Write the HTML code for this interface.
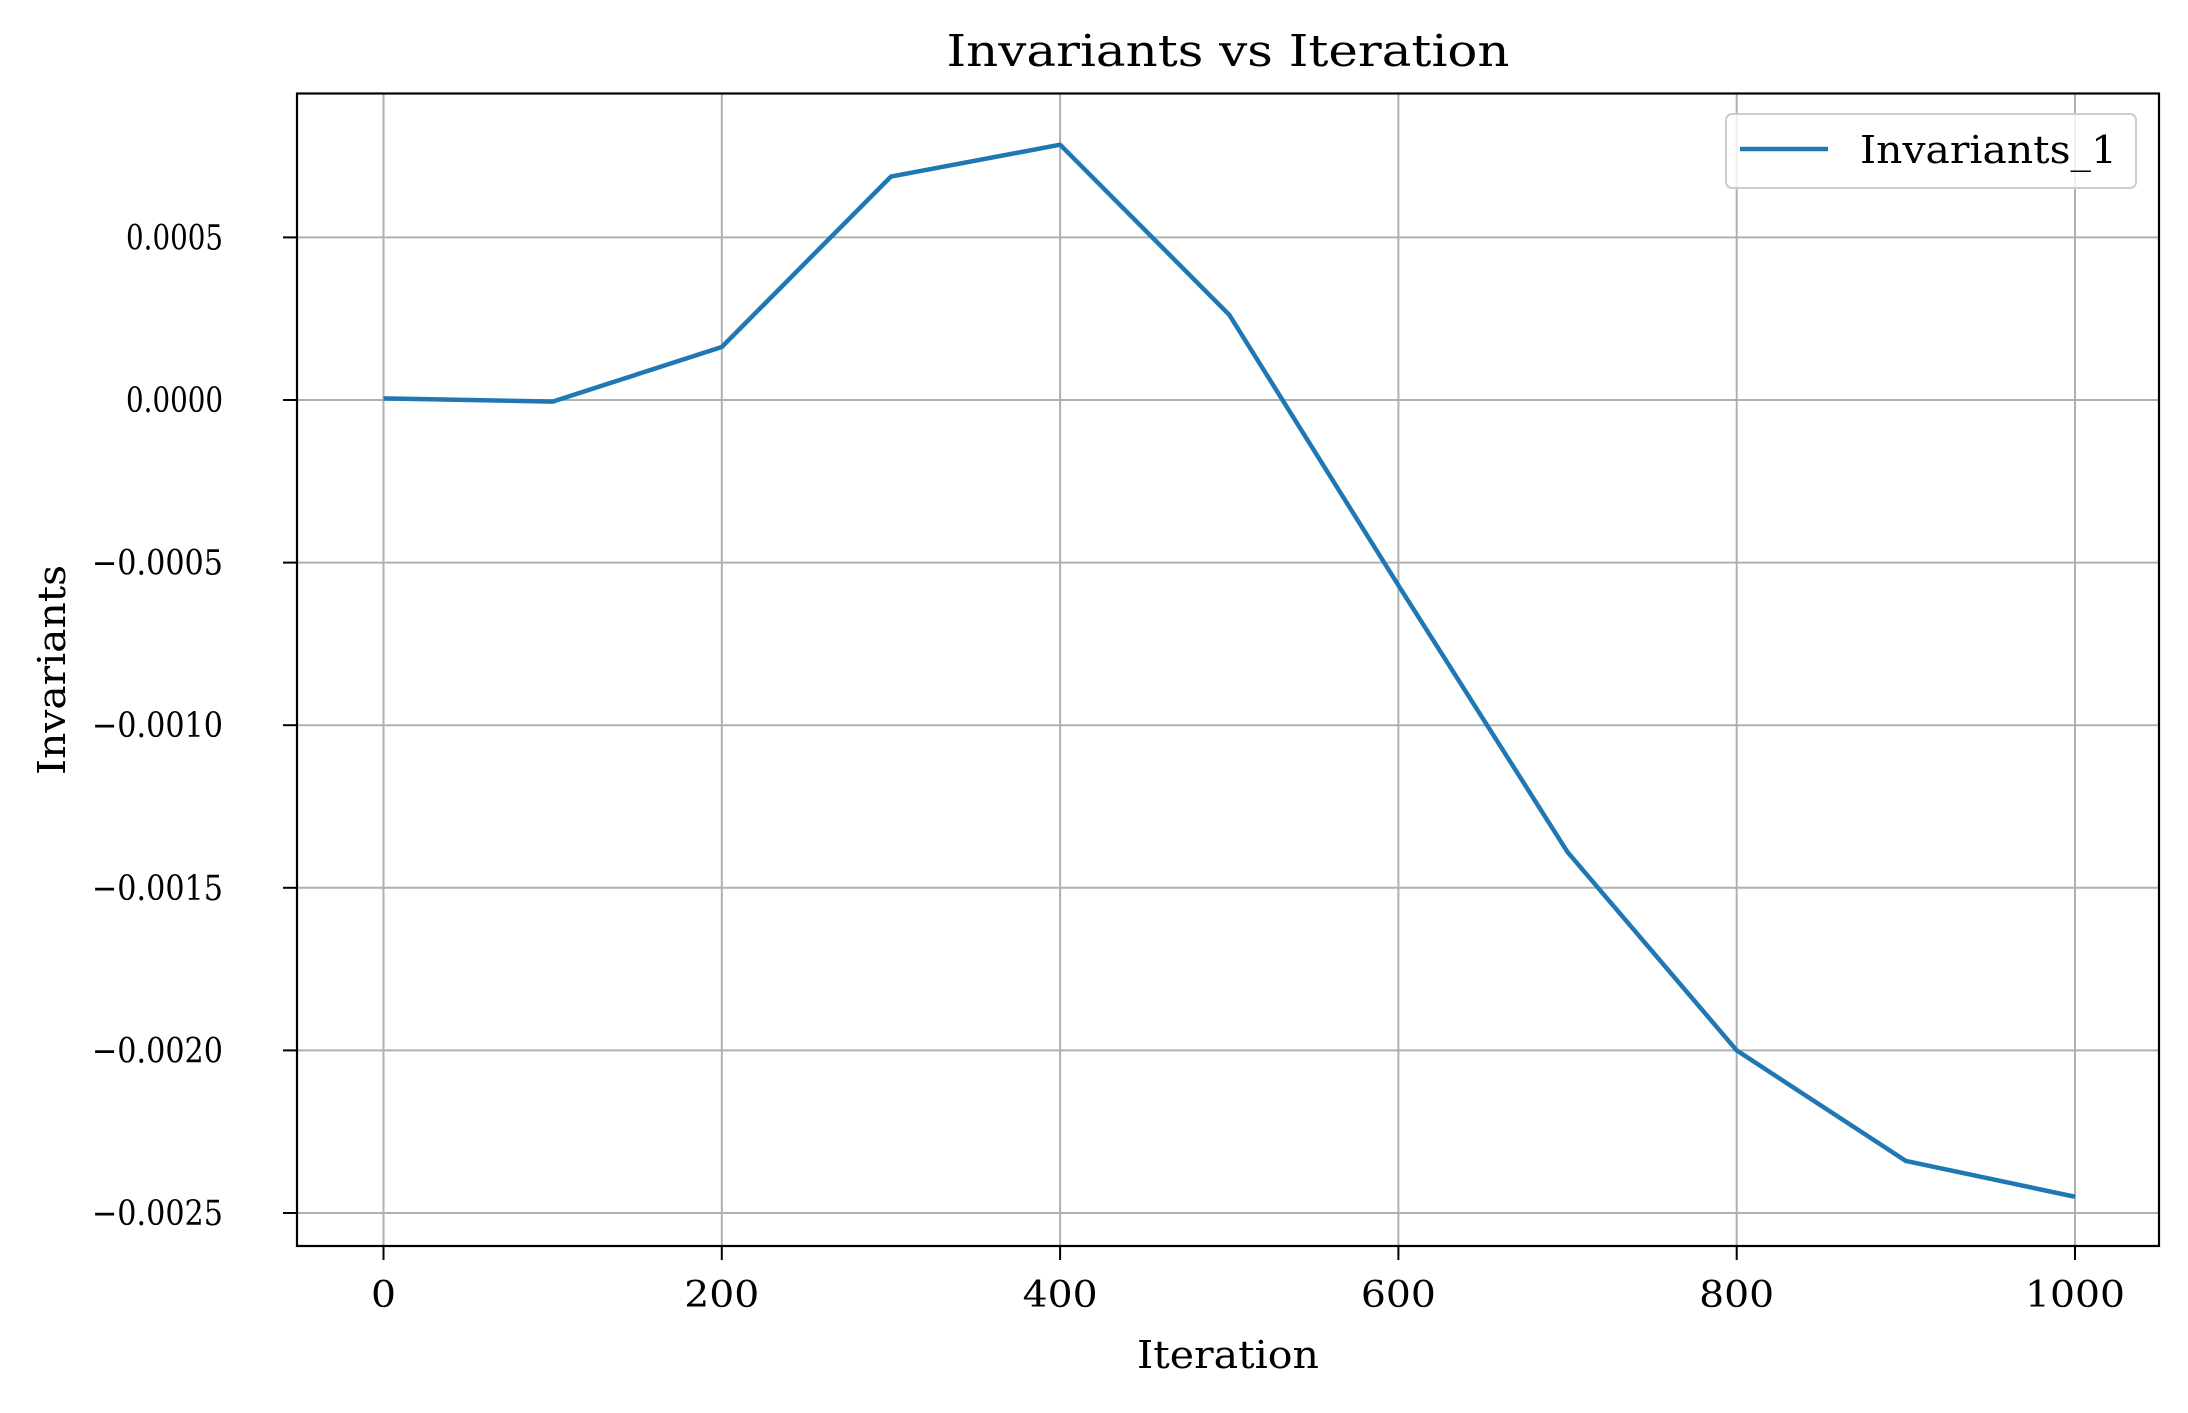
<!DOCTYPE html>
<html><head><meta charset="utf-8"><style>
body{margin:0;background:#fff}
svg text{font-family:"DejaVu Serif","Liberation Serif",serif;fill:#000}
</style></head><body>
<svg id="chart" width="2188" height="1408" xmlns="http://www.w3.org/2000/svg">
<rect width="2188" height="1408" fill="#fff"/>
<g id="grid"></g>
<g id="ticks"></g>
<g id="series"></g>
<rect x="297" y="93.5" width="1862" height="1152.5" fill="none" stroke="#000" stroke-width="2.2"/>
<text x="1228" y="66" font-size="44" text-anchor="middle" textLength="563" lengthAdjust="spacingAndGlyphs">Invariants vs Iteration</text>
<text x="1228" y="1368" font-size="38" text-anchor="middle" textLength="182" lengthAdjust="spacingAndGlyphs">Iteration</text>
<text x="0" y="0" font-size="38" text-anchor="middle" textLength="210" lengthAdjust="spacingAndGlyphs" transform="translate(65,670) rotate(-90)">Invariants</text>
<g>
<rect x="1726" y="114" width="410" height="74" rx="6" fill="#fff" fill-opacity="0.8" stroke="#ccc" stroke-width="2"/>
<line x1="1740" y1="149" x2="1828" y2="149" stroke="#1f77b4" stroke-width="4.5"/>
<text x="1860" y="163" font-size="38" textLength="257" lengthAdjust="spacingAndGlyphs">Invariants_1</text>
</g>
</svg>
<script>
const iterations=[0,100,200,300,400,500,600,700,800,900,1000];
const invariants=[0.000005,-0.000005,0.000163,0.000687,0.000785,0.000262,-0.00057,-0.00139,-0.00200,-0.00234,-0.00245];
const xTicks=[0,200,400,600,800,1000];
const yTicks=[0.0005,0,-0.0005,-0.001,-0.0015,-0.002,-0.0025];
const yTickLabels=["0.0005","0.0000","\u22120.0005","\u22120.0010","\u22120.0015","\u22120.0020","\u22120.0025"];
const NS="http://www.w3.org/2000/svg";
function X(v){return 383.5+(v/1000)*(2075-383.5);}
function Y(v){return 400-(v/0.0005)*162.6;}
const grid=document.getElementById('grid'),ticks=document.getElementById('ticks'),series=document.getElementById('series');
function mk(tag,attrs,parent){const e=document.createElementNS(NS,tag);for(const k in attrs)e.setAttribute(k,attrs[k]);parent.appendChild(e);return e;}
xTicks.forEach(t=>{
  const g=mk('line',{x1:X(t),x2:X(t),y1:93.5,y2:1246,stroke:'#b0b0b0','stroke-width':2},grid);
  
  
  const tk=mk('line',{x1:X(t),x2:X(t),y1:1246,y2:1260,stroke:'#000','stroke-width':2},ticks);
  
  
  const s=String(t);
  const tx=mk('text',{x:X(t),y:1307,'font-size':36,'text-anchor':'middle',textLength:s.length*25,lengthAdjust:'spacingAndGlyphs'},ticks);
  tx.textContent=s;
  
  
});
yTicks.forEach((t,i)=>{
  const g=mk('line',{x1:297,x2:2159,y1:Y(t),y2:Y(t),stroke:'#b0b0b0','stroke-width':2},grid);
  
  
  const tk=mk('line',{x1:283,x2:297,y1:Y(t),y2:Y(t),stroke:'#000','stroke-width':2},ticks);
  
  
  const lab=yTickLabels[i];
  const w=lab.startsWith('\u2212')?131:97;
  const tx=mk('text',{x:223,y:Y(t)+12,'font-size':35,'text-anchor':'end',textLength:w,lengthAdjust:'spacingAndGlyphs'},ticks);
  tx.textContent=lab;
  
  
});
const pts=iterations.map((x,i)=>X(x)+','+Y(invariants[i])).join(' ');
const pl=mk('polyline',{points:pts,fill:'none',stroke:'#1f77b4','stroke-width':4.5,'stroke-linejoin':'round'},series);


</script>
</body></html>
